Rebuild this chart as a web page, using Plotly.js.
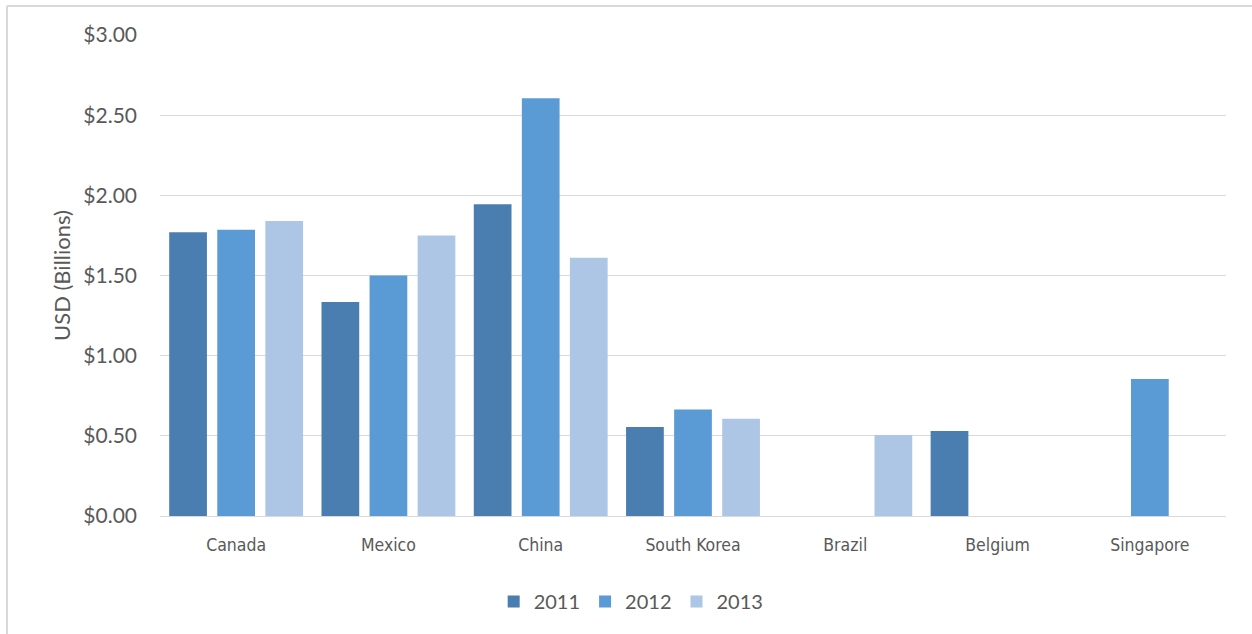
<!DOCTYPE html>
<html>
<head>
<meta charset="utf-8">
<script src="https://cdn.plot.ly/plotly-3.0.1.min.js"></script>
<style>
  html, body { margin: 0; padding: 0; background: #ffffff; }
  #chart { width: 1252px; height: 634px; }
</style>
</head>
<body>
<div id="chart"></div>
<script>
// Export value by destination country, USD billions
const countries = ["Canada", "Mexico", "China", "South Korea", "Brazil", "Belgium", "Singapore"];
const years = ["2011", "2012", "2013"];
const values2011 = [1.77, 1.335, 1.945, 0.555, null, 0.53, null];
const values2012 = [1.785, 1.50, 2.605, 0.665, null, null, 0.855];
const values2013 = [1.84, 1.75, 1.61, 0.607, 0.505, null, null];
const seriesColors = ["#4a7eb0", "#5b9bd5", "#adc6e6"];

const seriesValues = [values2011, values2012, values2013];
const traces = years.map((yr, i) => ({
  type: "bar",
  name: yr,
  x: countries,
  y: seriesValues[i],
  marker: { color: seriesColors[i], line: { width: 0 } },
  hoverinfo: "x+y+name"
}));

const textColor = "#595959";
const gridColor = "#d9d9d9";
const narrowFont = "'Liberation Sans Narrow', 'Arial Narrow', 'DejaVu Sans Condensed', Lato, sans-serif";

const layout = {
  width: 1252,
  height: 634,
  paper_bgcolor: "#ffffff",
  plot_bgcolor: "#ffffff",
  margin: { l: 160, r: 26, t: 35, b: 118 },
  barmode: "group",
  bargap: 0.053,
  bargroupgap: 0.215,
  font: { family: "Lato, 'Open Sans', sans-serif", size: 21, color: textColor },
  showlegend: true,
  legend: {
    orientation: "h",
    x: 0.442,
    xanchor: "center",
    y: -0.178,
    yanchor: "middle",
    font: { size: 20, color: textColor },
    itemwidth: 30,
    traceorder: "normal"
  },
  xaxis: {
    type: "category",
    showgrid: false,
    showline: true,
    linecolor: gridColor,
    linewidth: 1,
    ticks: "",
    ticklabelstandoff: 13,
    tickfont: { family: narrowFont, size: 17.5, color: textColor },
    fixedrange: true
  },
  yaxis: {
    range: [0, 3],
    dtick: 0.5,
    tick0: 0,
    tickprefix: "$",
    tickformat: ".2f",
    showgrid: true,
    gridcolor: gridColor,
    gridwidth: 1,
    zeroline: false,
    showline: false,
    ticks: "",
    ticklabelstandoff: 22,
    tickfont: { size: 21, color: textColor },
    title: { text: "USD (Billions)", font: { size: 22, color: textColor }, standoff: 6 },
    fixedrange: true
  },
  shapes: [
    // chart-area frame (left and top edges)
    { type: "line", xref: "paper", yref: "paper",
      x0: -153 / 1066, x1: -153 / 1066, y0: -118 / 481, y1: 1 + 29 / 481,
      line: { color: gridColor, width: 2 } },
    { type: "line", xref: "paper", yref: "paper",
      x0: -153 / 1066, x1: 1 + 26 / 1066, y0: 1 + 29 / 481, y1: 1 + 29 / 481,
      line: { color: gridColor, width: 2 } }
  ]
};

Plotly.newPlot("chart", traces, layout, { displayModeBar: false, staticPlot: true });
</script>
</body>
</html>
